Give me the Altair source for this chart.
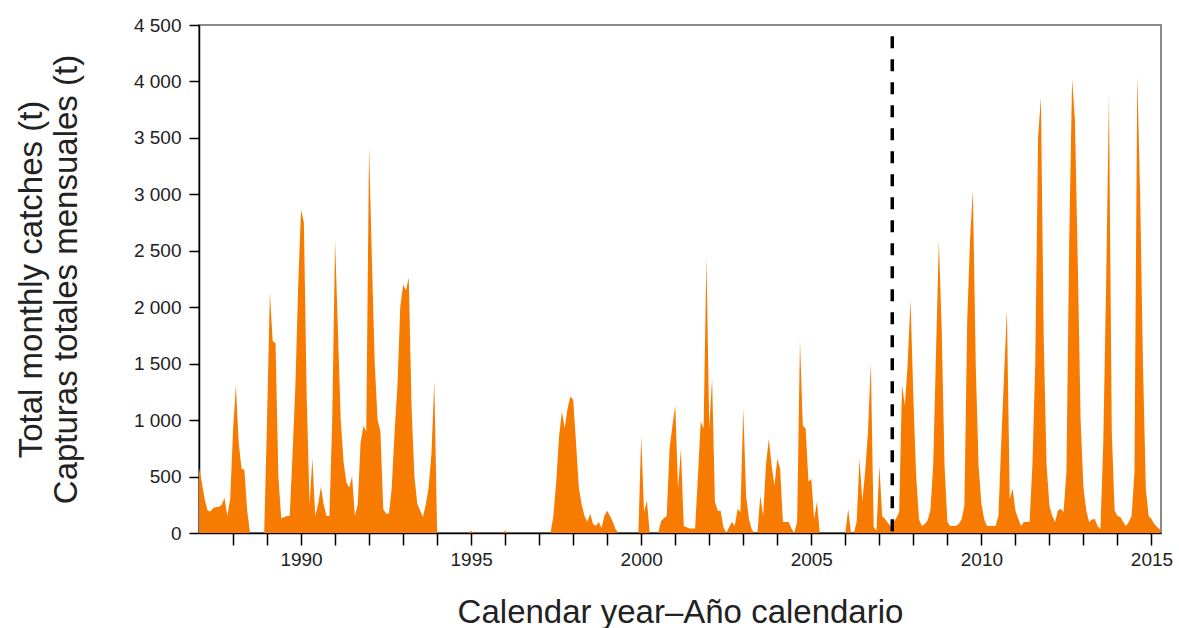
import altair as alt
import pandas as pd

# Monthly catches (t), January of each year first
c1987 = [580, 450, 300, 200, 190, 220, 230, 230, 250, 310, 150, 300]
c1988 = [900, 1308, 800, 570, 560, 200, 0, 0, 0, 0, 0, 0]
c1989 = [1000, 2126, 1700, 1680, 500, 130, 140, 150, 150, 700, 1300, 2200]
c1990 = [2865, 2750, 1200, 250, 658, 150, 250, 410, 250, 150, 150, 1000]
c1991 = [2590, 1800, 1000, 630, 450, 400, 500, 150, 250, 800, 950, 900]
c1992 = [3416, 2410, 1500, 1000, 900, 213, 170, 170, 400, 900, 1300, 2000]
c1993 = [2200, 2150, 2260, 1100, 500, 260, 200, 142, 250, 400, 700, 1343]
c1994 = [0, 0, 0, 0, 0, 0, 0, 0, 0, 0, 0, 0]
c1995 = [20, 0, 0, 0, 0, 0, 0, 0, 0, 0, 0, 0]
c1996 = [20, 0, 0, 0, 0, 0, 0, 0, 0, 0, 0, 0]
c1997 = [0, 0, 0, 0, 0, 150, 450, 850, 1076, 925, 1100, 1210]
c1998 = [1180, 800, 400, 250, 150, 100, 170, 80, 62, 98, 45, 150]
c1999 = [196, 150, 98, 30, 0, 0, 0, 0, 0, 0, 0, 0]
c2000 = [854, 187, 285, 0, 0, 0, 0, 107, 130, 150, 747, 950]
c2001 = [1130, 391, 747, 62, 50, 40, 40, 40, 500, 988, 925, 2438]
c2002 = [925, 1370, 276, 196, 196, 53, 0, 50, 98, 62, 213, 187]
c2003 = [1103, 330, 125, 30, 0, 0, 330, 150, 600, 836, 596, 418]
c2004 = [658, 570, 98, 98, 98, 40, 0, 100, 1700, 950, 925, 453]
c2005 = [480, 125, 276, 0, 0, 0, 0, 0, 0, 0, 0, 0]
c2006 = [0, 213, 0, 0, 98, 658, 276, 543, 900, 1504, 53, 20]
c2007 = [596, 151, 125, 90, 60, 98, 130, 187, 1308, 1130, 1500, 2064]
c2008 = [1200, 500, 120, 62, 80, 110, 200, 600, 1600, 2590, 1800, 600]
c2009 = [100, 62, 62, 62, 80, 120, 240, 1877, 2600, 3034, 1500, 600]
c2010 = [260, 120, 62, 62, 62, 62, 150, 800, 1400, 1975, 302, 391]
c2011 = [200, 125, 62, 98, 98, 98, 600, 1500, 3505, 3861, 1700, 600]
c2012 = [240, 150, 98, 200, 213, 187, 543, 2616, 4021, 3657, 2400, 1000]
c2013 = [400, 200, 98, 120, 125, 60, 36, 800, 2200, 3879, 900, 200]
c2014 = [151, 142, 100, 62, 98, 150, 543, 4057, 3000, 1500, 391, 150]
c2015 = [125, 80, 53, 30]

first_year = 1987
vline_year = [2007.38]
y_ticks = [0, 500, 1000, 1500, 2000, 2500, 3000, 3500, 4000, 4500]
x_ticks = list(range(1988, 2016))

catches = (c1987 + c1988 + c1989 + c1990 + c1991 + c1992 + c1993 + c1994 + c1995
           + c1996 + c1997 + c1998 + c1999 + c2000 + c2001 + c2002 + c2003 + c2004
           + c2005 + c2006 + c2007 + c2008 + c2009 + c2010 + c2011 + c2012 + c2013
           + c2014 + c2015)
times = [first_year + i / 12 for i in range(len(catches))]
df = pd.DataFrame({"year": times, "catch": catches})
vdf = pd.DataFrame({"year": vline_year, "catch": [4400], "catch2": [0]})

FONT = "Liberation Sans"
x_title = "Calendar year\u2013A\u00f1o calendario"
y_title = ["Total monthly catches (t)", "Capturas totales mensuales (t)"]

x_enc = alt.X(
    "year:Q",
    scale=alt.Scale(domain=[1987, 2015.28], nice=False, zero=False),
    axis=alt.Axis(
        values=x_ticks,
        labelExpr="datum.value % 5 === 0 ? toString(datum.value) : ''",
        tickSize=12,
        labelPadding=5,
        labelFontSize=19,
        titleFontSize=33,
        titleX=481,
        titleY=89,
        titleAlign="center",
        titleBaseline="alphabetic",
    ),
    title=x_title,
)
y_enc = alt.Y(
    "catch:Q",
    scale=alt.Scale(domain=[0, 4500], nice=False),
    axis=alt.Axis(
        values=y_ticks,
        labelExpr="replace(format(datum.value, ','), ',', ' ')",
        tickSize=10,
        labelPadding=8,
        labelFontSize=19,
        titleFontSize=33,
        titleLineHeight=35,
        titleX=-158,
        titleY=254,
        titleAlign="center",
        titleBaseline="alphabetic",
    ),
    title=y_title,
)

area = alt.Chart(df).mark_area(color="#F77B00", interpolate="linear", clip=True).encode(
    x=x_enc, y=y_enc
)

rule = alt.Chart(vdf).mark_rule(color="black", strokeWidth=3.5, strokeDash=[12, 11]).encode(
    x=x_enc, y=y_enc, y2="catch2:Q"
)

chart = (
    alt.layer(area, rule)
    .properties(
        width=962,
        height=508,
        autosize=alt.AutoSizeParams(type="none"),
        padding={"left": 199, "top": 25, "right": 18, "bottom": 95},
        background="white",
    )
    .configure_view(stroke="#8a8a8a", strokeWidth=2)
    .configure_axis(
        grid=False,
        domainColor="black",
        domainWidth=1.5,
        tickColor="black",
        tickWidth=1.5,
        labelFont=FONT,
        titleFont=FONT,
        labelColor="#222222",
        titleColor="#222222",
        titleFontWeight="normal",
    )
)

chart.save("out.html", embed_options={"renderer": "svg", "actions": False})
